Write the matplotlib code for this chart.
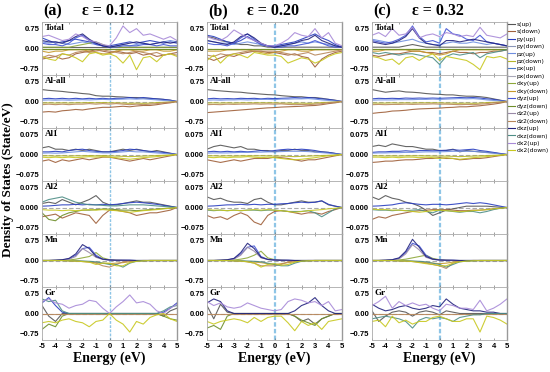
import matplotlib
matplotlib.use("Agg")
import matplotlib.pyplot as plt
from matplotlib.lines import Line2D

# ---------------- data ----------------
energy = [-5.0, -4.5, -4.0, -3.5, -3.0, -2.5, -2.0, -1.5, -1.0, -0.5, 0.0,
          0.5, 1.0, 1.5, 2.0, 2.5, 3.0, 3.5, 4.0, 4.5, 5.0]
flat = [0.0, 0.0, 0.0, 0.0, 0.0, 0.0, 0.0, 0.0, 0.0, 0.0, 0.0,
        0.0, 0.0, 0.0, 0.0, 0.0, 0.0, 0.0, 0.0, 0.0, 0.0]

series_names = ["s(up)", "s(down)", "py(up)", "py(down)", "pz(up)", "pz(down)",
                "px(up)", "px(down)", "dxy(up)", "dxy(down)", "dyz(up)", "dyz(down)",
                "dz2(up)", "dz2(down)", "dxz(up)", "dxz(down)", "dx2(up)", "dx2(down)"]
series_colors = ["#555555", "#a0603a", "#2a3fc0", "#8a96b8", "#6f8fe0", "#b5b52a",
                 "#4a78c8", "#a8a8b8", "#8ea83a", "#c89a2a", "#4456d6", "#6e8e2a",
                 "#9a8aa8", "#b8875a", "#23237e", "#4e8e86", "#a88ad8", "#c8c820"]

row_labels = ["Total", "Al-all", "Al1", "Al2", "Mn", "Gr"]
col_letters = ["(a)", "(b)", "(c)"]
col_titles = ["\u03b5 = 0.12", "\u03b5 = 0.20", "\u03b5 = 0.32"]
row_limits = [1.0, 1.0, 0.1, 0.1, 1.0, 1.0]
row_ticks = [["0.75", "0.00", "\u22120.75"], ["0.75", "0.00", "\u22120.75"],
             ["0.075", "0.000", "\u22120.075"], ["0.075", "0.000", "\u22120.075"],
             ["0.75", "0.00", "\u22120.75"], ["0.75", "0.00", "\u22120.75"]]

# ---- Total ----
total_a = {
    "dx2(up)":  [0.45, 0.50, 0.40, 0.30, 0.35, 0.55, 0.45, 0.30, 0.25, 0.15, 0.10, 0.40, 0.85, 0.60, 0.75, 0.50, 0.55, 0.45, 0.35, 0.45, 0.30],
    "py(up)":   [0.40, 0.30, 0.20, 0.25, 0.30, 0.35, 0.30, 0.25, 0.20, 0.10, 0.10, 0.15, 0.20, 0.25, 0.20, 0.25, 0.30, 0.25, 0.20, 0.25, 0.20],
    "pz(up)":   [0.25, 0.20, 0.25, 0.20, 0.15, 0.20, 0.25, 0.20, 0.15, 0.10, 0.05, 0.10, 0.15, 0.10, 0.15, 0.20, 0.15, 0.20, 0.25, 0.30, 0.25],
    "dyz(up)":  [0.20, 0.15, 0.15, 0.10, 0.20, 0.40, 0.50, 0.30, 0.15, 0.10, 0.05, 0.05, 0.10, 0.10, 0.10, 0.15, 0.15, 0.10, 0.15, 0.10, 0.10],
    "dxz(up)":  [0.30, 0.25, 0.25, 0.20, 0.30, 0.45, 0.55, 0.35, 0.20, 0.10, 0.05, 0.10, 0.15, 0.20, 0.25, 0.20, 0.15, 0.20, 0.25, 0.20, 0.25],
    "dxy(up)":  [0.05, 0.05, 0.05, 0.05, 0.05, 0.10, 0.15, 0.20, 0.25, 0.15, 0.05, 0.05, 0.05, 0.05, 0.05, 0.05, 0.05, 0.05, 0.05, 0.05, 0.05],
    "s(up)":    [0.05, 0.05, 0.05, 0.05, 0.05, 0.05, 0.05, 0.05, 0.05, 0.05, 0.05, 0.05, 0.05, 0.05, 0.05, 0.05, 0.05, 0.05, 0.05, 0.05, 0.05],
    "dx2(down)": [-0.30, -0.40, -0.45, -0.20, -0.25, -0.35, -0.50, -0.20, -0.15, -0.25, -0.20, -0.30, -0.55, -0.25, -0.80, -0.35, -0.30, -0.50, -0.25, -0.20, -0.30],
    "s(down)":  [-0.40, -0.35, -0.30, -0.40, -0.35, -0.20, -0.15, -0.10, -0.05, -0.10, -0.15, -0.10, -0.15, -0.20, -0.15, -0.25, -0.20, -0.30, -0.25, -0.20, -0.15],
    "dz2(down)": [-0.35, -0.25, -0.30, -0.20, -0.25, -0.15, -0.10, -0.15, -0.10, -0.05, -0.10, -0.15, -0.20, -0.15, -0.10, -0.15, -0.20, -0.15, -0.25, -0.20, -0.25],
    "dxy(down)": [-0.10, -0.15, -0.10, -0.10, -0.05, -0.05, -0.05, -0.10, -0.15, -0.20, -0.20, -0.10, -0.05, -0.05, -0.10, -0.10, -0.05, -0.05, -0.10, -0.10, -0.05],
    "pz(down)": flat,
    "dyz(down)": flat,
}
total_b = {
    "dx2(up)":  [0.45, 0.35, 0.30, 0.45, 0.70, 0.55, 0.40, 0.30, 0.20, 0.10, 0.10, 0.20, 0.35, 0.60, 0.50, 0.45, 0.75, 0.40, 0.60, 0.20, 0.10],
    "py(up)":   [0.50, 0.45, 0.35, 0.25, 0.20, 0.30, 0.45, 0.30, 0.15, 0.10, 0.10, 0.15, 0.20, 0.25, 0.35, 0.45, 0.55, 0.40, 0.30, 0.15, 0.05],
    "pz(up)":   [0.30, 0.25, 0.20, 0.20, 0.15, 0.20, 0.25, 0.20, 0.15, 0.10, 0.10, 0.10, 0.15, 0.20, 0.25, 0.20, 0.25, 0.20, 0.15, 0.10, 0.05],
    "dyz(up)":  [0.20, 0.15, 0.15, 0.10, 0.20, 0.40, 0.55, 0.35, 0.15, 0.10, 0.05, 0.05, 0.10, 0.10, 0.15, 0.20, 0.30, 0.20, 0.10, 0.05, 0.05],
    "dxz(up)":  [0.30, 0.25, 0.20, 0.15, 0.25, 0.45, 0.55, 0.40, 0.20, 0.10, 0.05, 0.10, 0.15, 0.20, 0.30, 0.35, 0.50, 0.30, 0.20, 0.10, 0.05],
    "s(up)":    [0.45, 0.40, 0.30, 0.25, 0.20, 0.15, 0.15, 0.10, 0.10, 0.05, 0.05, 0.05, 0.05, 0.05, 0.05, 0.05, 0.05, 0.05, 0.05, 0.05, 0.05],
    "dx2(down)": [-0.45, -0.25, -0.55, -0.30, -0.20, -0.25, -0.35, -0.15, -0.20, -0.25, -0.25, -0.30, -0.55, -0.45, -0.35, -0.40, -0.55, -0.45, -0.30, -0.20, -0.15],
    "s(down)":  [-0.35, -0.45, -0.35, -0.25, -0.30, -0.20, -0.15, -0.10, -0.10, -0.15, -0.15, -0.20, -0.25, -0.20, -0.30, -0.35, -0.70, -0.40, -0.25, -0.15, -0.10],
    "dz2(down)": [-0.25, -0.30, -0.20, -0.25, -0.20, -0.15, -0.10, -0.10, -0.10, -0.10, -0.10, -0.15, -0.20, -0.25, -0.20, -0.15, -0.25, -0.20, -0.15, -0.10, -0.05],
    "dxy(down)": [-0.10, -0.10, -0.10, -0.05, -0.05, -0.05, -0.05, -0.10, -0.15, -0.20, -0.15, -0.10, -0.05, -0.05, -0.10, -0.10, -0.05, -0.05, -0.05, -0.05, -0.05],
    "pz(down)": flat,
    "dyz(down)": flat,
}
total_c = {
    "dx2(up)":  [0.50, 0.60, 0.45, 0.75, 0.50, 0.55, 0.80, 0.40, 0.50, 0.55, 0.45, 0.60, 0.55, 0.45, 0.50, 0.45, 0.80, 0.50, 0.45, 0.40, 0.55],
    "dyz(up)":  [0.30, 0.25, 0.20, 0.25, 0.35, 0.50, 0.85, 0.45, 0.25, 0.30, 0.20, 0.75, 0.55, 0.50, 0.35, 0.30, 0.50, 0.25, 0.20, 0.15, 0.10],
    "dxz(up)":  [0.25, 0.20, 0.15, 0.20, 0.30, 0.45, 0.75, 0.40, 0.20, 0.15, 0.10, 0.30, 0.30, 0.25, 0.30, 0.35, 0.30, 0.25, 0.20, 0.15, 0.10],
    "pz(up)":   [0.35, 0.30, 0.25, 0.20, 0.25, 0.30, 0.35, 0.25, 0.20, 0.15, 0.15, 0.20, 0.25, 0.20, 0.20, 0.25, 0.20, 0.15, 0.20, 0.15, 0.10],
    "s(up)":    [0.05, 0.05, 0.05, 0.05, 0.05, 0.10, 0.15, 0.10, 0.05, 0.05, 0.05, 0.05, 0.05, 0.05, 0.05, 0.05, 0.05, 0.05, 0.05, 0.05, 0.05],
    "dx2(down)": [-0.30, -0.35, -0.45, -0.40, -0.60, -0.35, -0.30, -0.45, -0.30, -0.20, -0.45, -0.30, -0.35, -0.40, -0.45, -0.60, -0.80, -0.30, -0.35, -0.30, -0.40],
    "dxz(down)": [-0.15, -0.20, -0.15, -0.20, -0.25, -0.20, -0.20, -0.25, -0.30, -0.35, -0.60, -0.30, -0.20, -0.25, -0.20, -0.15, -0.35, -0.20, -0.15, -0.10, -0.05],
    "s(down)":  [-0.25, -0.30, -0.25, -0.20, -0.20, -0.15, -0.10, -0.10, -0.15, -0.15, -0.20, -0.15, -0.10, -0.15, -0.15, -0.20, -0.15, -0.15, -0.10, -0.10, -0.05],
    "dxy(down)": [-0.10, -0.10, -0.05, -0.05, -0.05, -0.05, -0.10, -0.10, -0.15, -0.20, -0.25, -0.20, -0.10, -0.05, -0.05, -0.05, -0.05, -0.05, -0.05, -0.05, -0.05],
    "pz(down)": flat,
    "dyz(down)": flat,
}

# ---- Al-all ----
alall_a = {
    "s(up)":    [0.45, 0.42, 0.40, 0.38, 0.35, 0.33, 0.30, 0.28, 0.22, 0.20, 0.20, 0.18, 0.17, 0.15, 0.15, 0.13, 0.12, 0.10, 0.08, 0.05, 0.00],
    "py(up)":   [0.10, 0.12, 0.10, 0.12, 0.10, 0.12, 0.10, 0.12, 0.10, 0.12, 0.10, 0.12, 0.12, 0.15, 0.12, 0.15, 0.12, 0.10, 0.08, 0.05, 0.00],
    "pz(up)":   [0.05, 0.06, 0.05, 0.06, 0.05, 0.06, 0.07, 0.06, 0.07, 0.08, 0.07, 0.08, 0.09, 0.10, 0.09, 0.10, 0.08, 0.06, 0.04, 0.02, 0.00],
    "s(down)":  [-0.40, -0.38, -0.40, -0.35, -0.33, -0.30, -0.32, -0.28, -0.25, -0.22, -0.22, -0.20, -0.18, -0.20, -0.17, -0.15, -0.15, -0.12, -0.08, -0.05, 0.00],
    "dz2(down)": [-0.12, -0.10, -0.12, -0.10, -0.12, -0.10, -0.10, -0.08, -0.10, -0.08, -0.10, -0.08, -0.10, -0.12, -0.10, -0.12, -0.10, -0.08, -0.05, -0.03, 0.00],
    "pz(down)": [-0.06, -0.05, -0.06, -0.05, -0.06, -0.05, -0.05, -0.04, -0.05, -0.04, -0.05, -0.05, -0.06, -0.07, -0.06, -0.07, -0.06, -0.04, -0.03, -0.02, 0.00],
}
alall_b = {
    "s(up)":    [0.45, 0.42, 0.40, 0.38, 0.36, 0.35, 0.32, 0.30, 0.28, 0.26, 0.25, 0.22, 0.20, 0.18, 0.18, 0.15, 0.15, 0.12, 0.08, 0.05, 0.00],
    "py(up)":   [0.10, 0.12, 0.10, 0.11, 0.10, 0.12, 0.11, 0.12, 0.10, 0.12, 0.11, 0.12, 0.13, 0.15, 0.13, 0.15, 0.13, 0.10, 0.08, 0.04, 0.00],
    "pz(up)":   [0.05, 0.06, 0.05, 0.06, 0.06, 0.07, 0.06, 0.07, 0.08, 0.08, 0.07, 0.09, 0.09, 0.10, 0.10, 0.11, 0.09, 0.06, 0.04, 0.02, 0.00],
    "s(down)":  [-0.42, -0.40, -0.38, -0.36, -0.34, -0.32, -0.30, -0.28, -0.26, -0.24, -0.23, -0.21, -0.20, -0.19, -0.18, -0.16, -0.15, -0.12, -0.08, -0.05, 0.00],
    "dz2(down)": [-0.12, -0.11, -0.12, -0.10, -0.11, -0.10, -0.10, -0.09, -0.10, -0.09, -0.10, -0.09, -0.11, -0.12, -0.11, -0.12, -0.10, -0.08, -0.05, -0.03, 0.00],
    "pz(down)": [-0.06, -0.05, -0.06, -0.05, -0.06, -0.05, -0.05, -0.05, -0.05, -0.05, -0.05, -0.06, -0.06, -0.07, -0.06, -0.07, -0.06, -0.04, -0.03, -0.02, 0.00],
}
alall_c = {
    "s(up)":    [0.45, 0.40, 0.35, 0.38, 0.40, 0.36, 0.35, 0.33, 0.30, 0.28, 0.27, 0.25, 0.25, 0.22, 0.20, 0.20, 0.18, 0.15, 0.10, 0.05, 0.00],
    "py(up)":   [0.10, 0.12, 0.11, 0.12, 0.11, 0.13, 0.12, 0.13, 0.12, 0.13, 0.12, 0.13, 0.14, 0.15, 0.14, 0.15, 0.13, 0.10, 0.08, 0.04, 0.00],
    "pz(up)":   [0.05, 0.06, 0.06, 0.06, 0.07, 0.07, 0.07, 0.08, 0.08, 0.09, 0.08, 0.09, 0.10, 0.11, 0.10, 0.11, 0.09, 0.06, 0.04, 0.02, 0.00],
    "s(down)":  [-0.45, -0.42, -0.40, -0.36, -0.35, -0.33, -0.30, -0.28, -0.27, -0.26, -0.25, -0.23, -0.22, -0.20, -0.20, -0.18, -0.16, -0.13, -0.10, -0.06, 0.00],
    "dz2(down)": [-0.12, -0.11, -0.12, -0.11, -0.11, -0.10, -0.11, -0.10, -0.10, -0.09, -0.10, -0.10, -0.11, -0.12, -0.11, -0.12, -0.10, -0.08, -0.05, -0.03, 0.00],
    "pz(down)": [-0.06, -0.06, -0.06, -0.05, -0.06, -0.05, -0.06, -0.05, -0.05, -0.05, -0.05, -0.06, -0.06, -0.07, -0.06, -0.07, -0.06, -0.04, -0.03, -0.02, 0.00],
}

# ---- Al1 ----
al1_a = {
    "s(up)":    [0.025, 0.030, 0.020, 0.020, 0.015, 0.020, 0.015, 0.020, 0.015, 0.010, 0.010, 0.015, 0.020, 0.015, 0.020, 0.015, 0.010, 0.015, 0.010, 0.005, 0.000],
    "py(up)":   [0.010, 0.010, 0.012, 0.010, 0.015, 0.018, 0.020, 0.015, 0.012, 0.010, 0.010, 0.012, 0.015, 0.020, 0.018, 0.015, 0.012, 0.010, 0.008, 0.004, 0.000],
    "pz(up)":   [0.005, 0.006, 0.005, 0.006, 0.008, 0.010, 0.012, 0.010, 0.008, 0.006, 0.006, 0.008, 0.010, 0.012, 0.010, 0.010, 0.008, 0.006, 0.004, 0.002, 0.000],
    "s(down)":  [-0.025, -0.020, -0.030, -0.020, -0.025, -0.020, -0.015, -0.020, -0.015, -0.010, -0.010, -0.015, -0.020, -0.025, -0.020, -0.015, -0.020, -0.015, -0.010, -0.005, 0.000],
    "dx2(down)": [-0.010, -0.012, -0.010, -0.012, -0.010, -0.012, -0.010, -0.008, -0.010, -0.008, -0.010, -0.012, -0.015, -0.018, -0.015, -0.012, -0.010, -0.008, -0.005, -0.003, 0.000],
    "pz(down)": [-0.005, -0.005, -0.006, -0.005, -0.006, -0.005, -0.005, -0.004, -0.005, -0.004, -0.005, -0.006, -0.007, -0.008, -0.007, -0.006, -0.005, -0.004, -0.003, -0.002, 0.000],
}
al1_b = {
    "s(up)":    [0.020, 0.030, 0.035, 0.030, 0.025, 0.030, 0.020, 0.020, 0.015, 0.015, 0.010, 0.015, 0.015, 0.020, 0.015, 0.015, 0.010, 0.010, 0.008, 0.004, 0.000],
    "py(up)":   [0.010, 0.012, 0.010, 0.012, 0.010, 0.012, 0.010, 0.012, 0.015, 0.012, 0.015, 0.018, 0.020, 0.018, 0.020, 0.018, 0.015, 0.010, 0.008, 0.004, 0.000],
    "pz(up)":   [0.005, 0.006, 0.006, 0.006, 0.007, 0.008, 0.008, 0.009, 0.009, 0.010, 0.010, 0.011, 0.012, 0.012, 0.012, 0.011, 0.009, 0.007, 0.005, 0.002, 0.000],
    "s(down)":  [-0.020, -0.025, -0.030, -0.025, -0.020, -0.025, -0.020, -0.015, -0.015, -0.015, -0.010, -0.012, -0.015, -0.020, -0.025, -0.020, -0.020, -0.015, -0.010, -0.005, 0.000],
    "dx2(down)": [-0.010, -0.012, -0.010, -0.012, -0.010, -0.010, -0.008, -0.010, -0.012, -0.010, -0.012, -0.015, -0.018, -0.020, -0.018, -0.015, -0.012, -0.008, -0.005, -0.003, 0.000],
    "pz(down)": [-0.005, -0.005, -0.006, -0.005, -0.006, -0.005, -0.005, -0.005, -0.005, -0.005, -0.006, -0.006, -0.007, -0.008, -0.007, -0.006, -0.005, -0.004, -0.003, -0.002, 0.000],
}
al1_c = {
    "s(up)":    [0.030, 0.035, 0.030, 0.040, 0.035, 0.030, 0.030, 0.025, 0.020, 0.020, 0.015, 0.015, 0.020, 0.010, 0.015, 0.012, 0.010, 0.008, 0.006, 0.003, 0.000],
    "py(up)":   [0.008, 0.010, 0.010, 0.012, 0.012, 0.014, 0.012, 0.015, 0.015, 0.014, 0.015, 0.016, 0.018, 0.016, 0.018, 0.020, 0.015, 0.012, 0.008, 0.004, 0.000],
    "pz(up)":   [0.005, 0.006, 0.006, 0.007, 0.007, 0.008, 0.008, 0.009, 0.010, 0.010, 0.010, 0.011, 0.012, 0.012, 0.012, 0.012, 0.010, 0.007, 0.005, 0.002, 0.000],
    "s(down)":  [-0.030, -0.028, -0.025, -0.025, -0.022, -0.020, -0.020, -0.018, -0.015, -0.015, -0.012, -0.015, -0.015, -0.020, -0.018, -0.015, -0.015, -0.012, -0.008, -0.004, 0.000],
    "dx2(down)": [-0.010, -0.010, -0.012, -0.010, -0.012, -0.010, -0.010, -0.012, -0.010, -0.012, -0.015, -0.012, -0.015, -0.018, -0.015, -0.012, -0.010, -0.008, -0.005, -0.003, 0.000],
    "pz(down)": [-0.005, -0.005, -0.006, -0.005, -0.006, -0.005, -0.005, -0.005, -0.005, -0.006, -0.006, -0.006, -0.007, -0.008, -0.007, -0.006, -0.005, -0.004, -0.003, -0.002, 0.000],
}

# ---- Al2 ----
al2_a = {
    "s(up)":    [0.015, 0.020, 0.015, 0.030, 0.020, 0.010, 0.020, 0.030, 0.045, 0.020, 0.010, 0.010, 0.015, 0.020, 0.025, 0.020, 0.020, 0.015, 0.010, 0.005, 0.000],
    "dxz(down)": [0.020, 0.030, 0.035, 0.040, 0.030, 0.020, 0.015, 0.010, 0.010, 0.008, 0.006, 0.006, 0.008, 0.010, 0.010, 0.010, 0.008, 0.006, 0.004, 0.002, 0.000],
    "py(up)":   [0.005, 0.006, 0.008, 0.010, 0.010, 0.012, 0.010, 0.012, 0.010, 0.012, 0.010, 0.012, 0.015, 0.018, 0.020, 0.018, 0.015, 0.012, 0.008, 0.004, 0.000],
    "s(down)":  [-0.035, -0.030, -0.025, -0.040, -0.030, -0.020, -0.025, -0.030, -0.060, -0.030, -0.010, -0.010, -0.015, -0.020, -0.030, -0.025, -0.020, -0.020, -0.015, -0.010, 0.000],
    "dyz(down)": [-0.020, -0.045, -0.050, -0.030, -0.020, -0.015, -0.010, -0.010, -0.008, -0.006, -0.006, -0.008, -0.010, -0.010, -0.012, -0.010, -0.008, -0.006, -0.004, -0.002, 0.000],
    "dx2(down)": [-0.008, -0.010, -0.010, -0.012, -0.010, -0.012, -0.010, -0.008, -0.010, -0.008, -0.010, -0.012, -0.015, -0.018, -0.015, -0.012, -0.010, -0.008, -0.005, -0.003, 0.000],
}
al2_b = {
    "s(up)":    [0.040, 0.030, 0.035, 0.025, 0.020, 0.020, 0.015, 0.030, 0.035, 0.020, 0.010, 0.010, 0.015, 0.020, 0.025, 0.020, 0.020, 0.025, 0.010, 0.005, 0.000],
    "py(up)":   [0.005, 0.006, 0.008, 0.010, 0.010, 0.012, 0.010, 0.012, 0.010, 0.012, 0.012, 0.014, 0.015, 0.018, 0.020, 0.018, 0.020, 0.025, 0.012, 0.005, 0.000],
    "s(down)":  [-0.030, -0.040, -0.035, -0.045, -0.030, -0.020, -0.030, -0.055, -0.065, -0.030, -0.015, -0.012, -0.015, -0.020, -0.025, -0.020, -0.020, -0.025, -0.015, -0.008, 0.000],
    "dxz(down)": [-0.010, -0.012, -0.010, -0.012, -0.010, -0.012, -0.010, -0.010, -0.012, -0.010, -0.010, -0.012, -0.015, -0.015, -0.015, -0.012, -0.020, -0.035, -0.020, -0.005, 0.000],
    "dx2(down)": [-0.008, -0.010, -0.010, -0.012, -0.010, -0.012, -0.010, -0.008, -0.010, -0.008, -0.010, -0.012, -0.015, -0.018, -0.015, -0.012, -0.010, -0.008, -0.005, -0.003, 0.000],
}
al2_c = {
    "s(up)":    [0.040, 0.030, 0.045, 0.035, 0.030, 0.020, 0.015, 0.005, -0.010, -0.030, -0.020, -0.010, -0.005, 0.000, 0.005, 0.005, 0.005, 0.005, 0.003, 0.001, 0.000],
    "py(up)":   [0.005, 0.006, 0.008, 0.010, 0.015, 0.018, 0.015, 0.012, 0.010, 0.012, 0.012, 0.010, 0.012, 0.015, 0.018, 0.015, 0.018, 0.015, 0.010, 0.005, 0.000],
    "s(down)":  [-0.045, -0.035, -0.040, -0.030, -0.025, -0.020, -0.015, -0.012, -0.010, -0.008, -0.008, -0.008, -0.010, -0.012, -0.012, -0.010, -0.010, -0.008, -0.005, -0.003, 0.000],
    "dxz(down)": [-0.008, -0.010, -0.010, -0.012, -0.010, -0.012, -0.010, -0.008, -0.015, -0.020, -0.010, -0.012, -0.015, -0.018, -0.015, -0.015, -0.020, -0.015, -0.008, -0.003, 0.000],
    "dx2(down)": [-0.006, -0.008, -0.008, -0.010, -0.010, -0.012, -0.015, -0.018, -0.015, -0.012, -0.010, -0.012, -0.014, -0.016, -0.014, -0.012, -0.010, -0.008, -0.005, -0.003, 0.000],
}

# ---- Mn ----
mn_a = {
    "dxz(up)":  [0.00, 0.00, 0.01, 0.03, 0.08, 0.25, 0.60, 0.45, 0.15, 0.05, 0.02, 0.01, 0.01, 0.01, 0.00, 0.00, 0.00, 0.00, 0.00, 0.00, 0.00],
    "dyz(up)":  [0.00, 0.00, 0.01, 0.02, 0.06, 0.20, 0.45, 0.50, 0.20, 0.05, 0.02, 0.01, 0.01, 0.01, 0.00, 0.00, 0.00, 0.00, 0.00, 0.00, 0.00],
    "dz2(up)":  [0.00, 0.00, 0.01, 0.02, 0.05, 0.15, 0.45, 0.30, 0.12, 0.04, 0.02, 0.01, 0.01, 0.00, 0.00, 0.00, 0.00, 0.00, 0.00, 0.00, 0.00],
    "dxy(up)":  [0.00, 0.00, 0.00, 0.01, 0.02, 0.05, 0.10, 0.15, 0.30, 0.10, 0.03, 0.01, 0.00, 0.00, 0.00, 0.00, 0.00, 0.00, 0.00, 0.00, 0.00],
    "dz2(down)": [0.00, 0.00, 0.00, 0.00, -0.01, -0.02, -0.03, -0.05, -0.10, -0.20, -0.25, -0.15, -0.05, -0.02, -0.01, 0.00, 0.00, 0.00, 0.00, 0.00, 0.00],
    "dxz(down)": [0.00, 0.00, 0.00, 0.00, -0.01, -0.01, -0.02, -0.03, -0.05, -0.10, -0.15, -0.15, -0.25, -0.10, -0.03, -0.01, 0.00, 0.00, 0.00, 0.00, 0.00],
    "dx2(down)": [0.00, 0.00, 0.00, 0.00, -0.01, -0.02, -0.04, -0.06, -0.15, -0.10, -0.10, -0.20, -0.20, -0.08, -0.03, -0.01, 0.00, 0.00, 0.00, 0.00, 0.00],
    "dxy(down)": [0.00, 0.00, 0.00, 0.00, -0.01, -0.02, -0.04, -0.06, -0.08, -0.10, -0.12, -0.10, -0.08, -0.05, -0.02, -0.01, 0.00, 0.00, 0.00, 0.00, 0.00],
}
mn_b = {
    "dxz(up)":  [0.00, 0.00, 0.01, 0.03, 0.08, 0.30, 0.65, 0.45, 0.12, 0.04, 0.02, 0.01, 0.01, 0.00, 0.00, 0.00, 0.00, 0.00, 0.00, 0.00, 0.00],
    "dyz(up)":  [0.00, 0.00, 0.01, 0.02, 0.07, 0.25, 0.50, 0.55, 0.15, 0.04, 0.02, 0.01, 0.01, 0.00, 0.00, 0.00, 0.00, 0.00, 0.00, 0.00, 0.00],
    "dz2(up)":  [0.00, 0.00, 0.01, 0.02, 0.05, 0.20, 0.50, 0.35, 0.10, 0.04, 0.02, 0.01, 0.00, 0.00, 0.00, 0.00, 0.00, 0.00, 0.00, 0.00, 0.00],
    "dxy(up)":  [0.00, 0.00, 0.00, 0.01, 0.02, 0.05, 0.10, 0.20, 0.35, 0.10, 0.03, 0.01, 0.00, 0.00, 0.00, 0.00, 0.00, 0.00, 0.00, 0.00, 0.00],
    "dz2(down)": [0.00, 0.00, 0.00, 0.00, -0.01, -0.02, -0.05, -0.10, -0.20, -0.20, -0.20, -0.15, -0.05, -0.02, -0.01, 0.00, 0.00, 0.00, 0.00, 0.00, 0.00],
    "dxz(down)": [0.00, 0.00, 0.00, 0.00, -0.01, -0.01, -0.02, -0.03, -0.05, -0.10, -0.15, -0.20, -0.20, -0.10, -0.03, -0.01, 0.00, 0.00, 0.00, 0.00, 0.00],
    "dx2(down)": [0.00, 0.00, 0.00, 0.00, -0.01, -0.02, -0.05, -0.10, -0.25, -0.15, -0.12, -0.18, -0.15, -0.06, -0.02, -0.01, 0.00, 0.00, 0.00, 0.00, 0.00],
    "dxy(down)": [0.00, 0.00, 0.00, 0.00, -0.01, -0.02, -0.04, -0.06, -0.08, -0.12, -0.15, -0.12, -0.08, -0.05, -0.02, -0.01, 0.00, 0.00, 0.00, 0.00, 0.00],
}
mn_c = {
    "dxz(up)":  [0.00, 0.00, 0.01, 0.03, 0.10, 0.35, 0.80, 0.50, 0.15, 0.05, 0.02, 0.01, 0.01, 0.00, 0.00, 0.00, 0.00, 0.00, 0.00, 0.00, 0.00],
    "dyz(up)":  [0.00, 0.00, 0.01, 0.03, 0.08, 0.30, 0.65, 0.55, 0.20, 0.05, 0.02, 0.01, 0.01, 0.00, 0.00, 0.00, 0.00, 0.00, 0.00, 0.00, 0.00],
    "dz2(up)":  [0.00, 0.00, 0.01, 0.02, 0.06, 0.25, 0.60, 0.40, 0.12, 0.04, 0.02, 0.01, 0.00, 0.00, 0.00, 0.00, 0.00, 0.00, 0.00, 0.00, 0.00],
    "dxy(up)":  [0.00, 0.00, 0.00, 0.01, 0.02, 0.05, 0.10, 0.15, 0.20, 0.08, 0.03, 0.01, 0.00, 0.00, 0.00, 0.00, 0.00, 0.00, 0.00, 0.00, 0.00],
    "dz2(down)": [0.00, 0.00, 0.00, 0.00, -0.01, -0.02, -0.04, -0.06, -0.10, -0.15, -0.20, -0.30, -0.10, -0.03, -0.01, 0.00, 0.00, 0.00, 0.00, 0.00, 0.00],
    "dxz(down)": [0.00, 0.00, 0.00, 0.00, -0.01, -0.01, -0.02, -0.03, -0.05, -0.10, -0.15, -0.25, -0.15, -0.05, -0.02, -0.01, 0.00, 0.00, 0.00, 0.00, 0.00],
    "dx2(down)": [0.00, 0.00, 0.00, 0.00, -0.01, -0.02, -0.04, -0.08, -0.12, -0.15, -0.20, -0.20, -0.10, -0.05, -0.02, -0.01, 0.00, 0.00, 0.00, 0.00, 0.00],
    "dxy(down)": [0.00, 0.00, 0.00, 0.00, -0.01, -0.02, -0.03, -0.05, -0.08, -0.10, -0.12, -0.10, -0.06, -0.03, -0.01, 0.00, 0.00, 0.00, 0.00, 0.00, 0.00],
}

# ---- Gr ----
gr_a = {
    "dx2(up)":  [0.45, 0.55, 0.40, 0.35, 0.20, 0.30, 0.35, 0.50, 0.45, 0.20, 0.00, 0.25, 0.45, 0.70, 0.40, 0.45, 0.35, 0.10, 0.00, 0.20, 0.35],
    "dxz(down)": [0.55, 0.45, 0.50, 0.10, 0.00, 0.00, 0.00, 0.00, 0.00, 0.00, 0.00, 0.00, 0.00, 0.00, 0.00, 0.00, 0.00, 0.00, 0.10, 0.25, 0.30],
    "py(up)":   [0.40, 0.60, 0.30, 0.05, 0.00, 0.00, 0.00, 0.00, 0.00, 0.00, 0.00, 0.00, 0.00, 0.00, 0.00, 0.00, 0.00, 0.00, 0.05, 0.20, 0.40],
    "s(up)":    [0.30, -0.10, -0.30, 0.00, 0.00, 0.00, 0.00, 0.00, 0.00, 0.00, 0.00, 0.00, 0.00, 0.00, 0.00, 0.00, 0.00, 0.00, -0.10, 0.10, 0.20],
    "dx2(down)": [-0.35, -0.30, -0.35, -0.25, -0.20, -0.30, -0.35, -0.50, -0.30, -0.25, 0.00, -0.25, -0.40, -0.70, -0.30, -0.40, -0.15, -0.05, 0.00, -0.20, -0.30],
    "dyz(down)": [-0.60, -0.40, -0.50, -0.10, 0.00, 0.00, 0.00, 0.00, 0.00, 0.00, 0.00, 0.00, 0.00, 0.00, 0.00, 0.00, 0.00, 0.00, -0.10, -0.20, -0.25],
    "dz2(down)": flat,
}
gr_b = {
    "dx2(up)":  [0.45, 0.30, 0.40, 0.25, 0.20, 0.25, 0.40, 0.30, 0.20, 0.15, 0.10, 0.15, 0.45, 0.55, 0.50, 0.40, 0.45, 0.30, 0.45, 0.10, 0.15],
    "dxz(up)":  [0.40, 0.55, 0.45, 0.10, 0.00, 0.00, 0.00, 0.00, 0.00, 0.00, 0.00, 0.00, 0.00, 0.10, 0.30, 0.40, 0.60, 0.30, 0.10, 0.00, 0.00],
    "s(up)":    [0.30, -0.20, 0.35, 0.05, 0.00, 0.00, 0.00, 0.00, 0.00, 0.00, 0.00, 0.00, 0.00, -0.10, -0.30, -0.20, -0.40, -0.20, -0.10, 0.00, 0.00],
    "dx2(down)": [-0.30, -0.40, -0.30, -0.25, -0.20, -0.25, -0.35, -0.15, -0.30, -0.15, -0.10, -0.10, -0.35, -0.65, -0.30, -0.45, -0.35, -0.60, -0.30, -0.25, -0.20],
    "dyz(down)": [-0.55, -0.45, -0.60, -0.10, 0.00, 0.00, 0.00, 0.00, 0.00, 0.00, 0.00, 0.00, 0.00, -0.10, -0.25, -0.35, -0.45, -0.20, -0.10, 0.00, 0.00],
    "dz2(down)": flat,
}
gr_c = {
    "dx2(up)":  [0.30, 0.45, 0.65, 0.20, 0.45, 0.30, 0.40, 0.30, 0.35, 0.20, 0.10, 0.35, 0.30, 0.20, 0.20, 0.15, 0.50, 0.10, 0.20, 0.35, 0.55],
    "dxz(up)":  [0.35, 0.20, 0.10, 0.15, 0.25, 0.30, 0.20, 0.15, 0.20, 0.30, 0.25, 0.55, 0.35, 0.20, 0.15, 0.10, 0.10, 0.05, 0.05, 0.00, 0.00],
    "s(up)":    [0.10, -0.30, -0.10, 0.05, 0.10, 0.05, -0.10, 0.05, 0.10, 0.05, -0.05, 0.10, 0.05, 0.00, 0.00, 0.00, 0.00, 0.00, 0.00, 0.00, 0.00],
    "dx2(down)": [-0.30, -0.25, -0.50, -0.10, -0.35, -0.25, -0.40, -0.30, -0.30, -0.15, -0.10, -0.20, -0.30, -0.30, -0.20, -0.20, -0.70, -0.10, -0.15, -0.25, -0.40],
    "dxz(down)": [-0.20, -0.15, -0.10, -0.15, -0.20, -0.30, -0.55, -0.25, -0.15, -0.20, -0.15, -0.20, -0.30, -0.15, -0.10, -0.05, -0.05, 0.00, 0.00, 0.00, 0.00],
    "dz2(down)": flat,
}

panels = [[total_a, total_b, total_c],
          [alall_a, alall_b, alall_c],
          [al1_a, al1_b, al1_c],
          [al2_a, al2_b, al2_c],
          [mn_a, mn_b, mn_c],
          [gr_a, gr_b, gr_c]]

# ---------------- figure ----------------
W, H = 550, 372
fig = plt.figure(figsize=(W / 100, H / 100), dpi=100)
serif = "Liberation Serif"
sans = "Liberation Sans"

col_left = [42, 207, 372]
ax_w = 135
top_px = 22
row_h = 53

color_of = dict(zip(series_names, series_colors))

for r in range(6):
    for c in range(3):
        x0 = col_left[c] / W
        y0 = 1 - (top_px + row_h * (r + 1)) / H
        ax = fig.add_axes([x0, y0, ax_w / W, row_h / H])
        lim = row_limits[r]
        ax.set_xlim(-5, 5)
        ax.set_ylim(-lim, lim)
        data = panels[r][c]
        for name in series_names:
            if name in data:
                ax.plot(energy, data[name], color=color_of[name], lw=0.8, alpha=0.9)
        ax.axhline(0, color="#aaaaaa", lw=0.8, ls=(0, (4, 2)), zorder=0)
        ax.axvline(0, color="#8ec5e6", lw=1.0 if c == 0 else 1.6,
                   ls=(0, (2, 1)), zorder=0)
        ax.set_yticks([0.75 * lim, 0, -0.75 * lim])
        ax.set_yticklabels(row_ticks[r], fontsize=5.5, fontweight="bold", family=sans)
        ax.set_xticks(range(-5, 6))
        ax.tick_params(axis="both", direction="in", length=1.5, width=0.5,
                       colors="#777777", labelcolor="black", pad=2)
        ax.tick_params(axis="y", length=0)
        ax.tick_params(axis="x", top=True)
        if r == 5:
            ax.set_xticklabels([str(v) for v in range(-5, 6)], fontsize=5.5,
                               fontweight="bold", family=sans)
            ax.set_xlabel("Energy (eV)", fontsize=10, fontweight="bold",
                          family=serif, labelpad=1)
        else:
            ax.set_xticklabels([])
        for side in ["top", "bottom", "left"]:
            ax.spines[side].set_color("#aaaaaa")
            ax.spines[side].set_linewidth(0.6)
            ax.spines[side].set_linestyle((0, (1, 1)))
        ax.spines["right"].set_color("#999999")
        ax.spines["right"].set_linewidth(1.0)
        ax.text(0.02, 0.97, row_labels[r], transform=ax.transAxes, ha="left",
                va="top", fontsize=6.5, fontweight="bold", family=serif)

for c in range(3):
    fig.text((col_left[c] + 1) / W, 1 - 11 / H, col_letters[c], fontsize=11.5,
             fontweight="bold", family=serif, ha="left", va="center")
    fig.text((col_left[c] + 66) / W, 1 - 11 / H, col_titles[c], fontsize=11.5,
             fontweight="bold", family=serif, ha="center", va="center")

fig.text(8 / W, 1 - 180 / H, "Density of States (State/eV)", rotation=90,
         fontsize=9.5, fontweight="bold", family=serif, ha="center", va="center")

handles = [Line2D([0], [0], color=col, lw=0.8) for col in series_colors]
fig.legend(handles, series_names, loc="upper left", bbox_to_anchor=(507 / W, 1 - 21 / H),
           frameon=False, fontsize=4.3, handlelength=1.3, handletextpad=0.2,
           labelspacing=0.38, borderpad=0.1, borderaxespad=0)

fig.savefig("out.png", dpi=100)
